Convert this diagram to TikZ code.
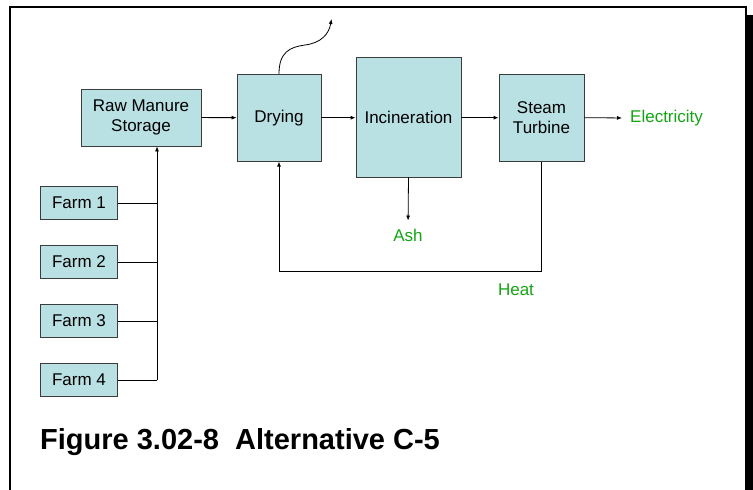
\documentclass[tikz,border=0pt]{standalone}
\usepackage{fontspec}
\setmainfont{Liberation Sans}
\usepackage{xcolor}
\usetikzlibrary{arrows.meta,positioning}
\definecolor{boxfill}{RGB}{185,224,227}
\definecolor{boxline}{RGB}{60,60,60}
\definecolor{outgreen}{RGB}{20,165,20}
\tikzset{
  unit/.style={draw=boxline, line width=0.8pt, fill=boxfill, align=center, font=\fontsize{17}{20}\selectfont, inner sep=0pt},
  farmbox/.style={unit, minimum width=77pt, minimum height=32.5pt},
  product/.style={text=outgreen, font=\fontsize{17}{20}\selectfont, inner sep=0pt},
  line/.style={-{Latex[length=5pt,width=4pt]}, line width=0.8pt},
  feed/.style={line width=0.8pt}
}
\begin{document}
\begin{tikzpicture}[x=1pt, y=-1pt, node distance=25.7pt]
  \useasboundingbox (0,0) rectangle (753,490);
  % frame with shadow
  \fill[black] (746.5,15) rectangle (753,490);
  \draw[line width=2pt] (10,490) -- (10,7) -- (745.5,7) -- (745.5,490);
  % process units
  \node[unit, minimum width=120pt, minimum height=57pt] (raw) at (141,117.5) {Raw Manure\\Storage};
  \node[unit, minimum width=84pt, minimum height=87pt] (drying) at (279,117.7) {Drying};
  \node[unit, minimum width=105pt, minimum height=120pt] (incin) at (408.5,117) {Incineration};
  \node[unit, minimum width=85pt, minimum height=87pt] (steam) at (541.5,117.7) {Steam\\Turbine};
  % farms
  \node[farmbox] (farm1) at (79,203) {Farm 1};
  \node[farmbox, below=of farm1] (farm2) {Farm 2};
  \node[farmbox, below=of farm2] (farm3) {Farm 3};
  \node[farmbox, below=of farm3] (farm4) {Farm 4};
  % products
  \node[product, anchor=west] (elec) at (630,118) {Electricity};
  \node[product] (ash) at (408,235) {Ash};
  \node[product] (heat) at (516,290) {Heat};
  \node[anchor=base west, inner sep=0pt, font=\fontsize{29}{34}\selectfont\bfseries] (title) at (40,449) {Figure 3.02-8\ \ Alternative C-5};
  \coordinate (bus) at (157,379);
  \coordinate (heatrun) at (0,271);
  \coordinate (vapour) at (331.5,19);
  % connectors
  \draw[line] (raw) -- (drying);
  \draw[line] (drying.east) -- (incin.west |- drying.east);
  \draw[line] (incin.east |- steam.west) -- (steam.west);
  \draw[line, shorten >=8pt] (steam.east) -- (elec.west);
  \draw[line, shorten >=8pt] (incin.south) -- (ash.north);
  \draw[line] (steam.south) -- (steam.south |- heatrun) -| (drying.south);
  \draw[line] (drying.north) .. controls (279,52) and (290,47) .. (305,45) .. controls (321,43) and (329,34) .. (vapour);
  \draw[feed] (farm1.east) -- (farm1.east -| bus);
  \draw[feed] (farm2.east) -- (farm2.east -| bus);
  \draw[feed] (farm3.east) -- (farm3.east -| bus);
  \draw[feed] (farm4.east) -- (farm4.east -| bus);
  \draw[line] (farm4.east -| bus) -- (bus |- raw.south);
\end{tikzpicture}
\end{document}
